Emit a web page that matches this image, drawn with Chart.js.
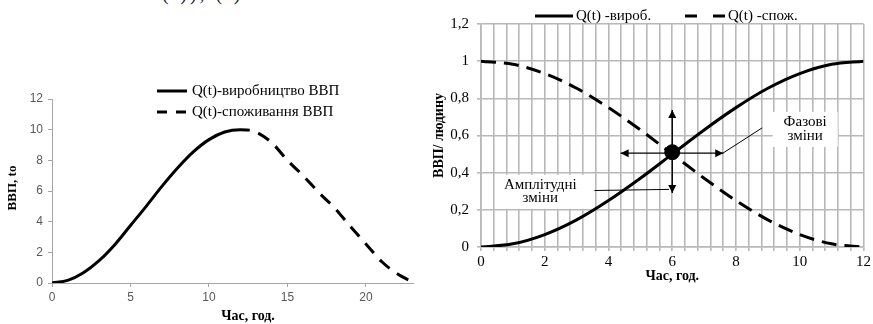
<!DOCTYPE html>
<html><head><meta charset="utf-8">
<script src="https://cdn.jsdelivr.net/npm/chart.js@4.4.1/dist/chart.umd.min.js"></script>
<style>
html,body{margin:0;padding:0;background:#fff;}
body{width:873px;height:324px;position:relative;overflow:hidden;}
#w1{position:absolute;left:0;top:0;width:440px;height:324px;}
#w2{position:absolute;left:430px;top:0;width:443px;height:324px;}
#frag{position:absolute;left:162px;top:-17px;font:20px "Liberation Serif";line-height:20px;letter-spacing:3px;white-space:pre;color:#222;}
canvas{display:block;}
</style></head><body>
<div id="frag">(t)), (t)</div>
<div id="w1"><canvas id="c1" width="440" height="324" style="width:440px;height:324px"></canvas></div>
<div id="w2"><canvas id="c2" width="443" height="324" style="width:443px;height:324px"></canvas></div>
<script>
// ---------- Left chart data ----------
const leftProdTime = [0, 1, 2, 3, 4, 5, 6, 7, 8, 9, 10, 11, 12, 12.6];
const leftProduction = [0, 0.17, 0.67, 1.46, 2.5, 3.75, 5.0, 6.3, 7.5, 8.55, 9.35, 9.85, 10.0, 9.97];
const leftConsTime = [12.6, 13, 14, 15, 16, 17, 18, 19, 20, 21, 22, 23];
const leftConsumption = [9.97, 9.85, 9.15, 8.0, 7.0, 5.9, 4.9, 3.7, 2.55, 1.4, 0.6, 0.05];
const leftXTickLabels = ['0', '5', '10', '15', '20'];
const leftYTickLabels = ['0', '2', '4', '6', '8', '10', '12'];
const leftSeriesNames = ['Q(t)-виробництво ВВП', 'Q(t)-споживання ВВП'];
const leftXTitle = 'Час, год.';
const leftYTitle = 'ВВП, to';

// ---------- Right chart data ----------
const rightTime = [0, 1, 2, 3, 4, 5, 6, 7, 8, 9, 10, 11, 12];
const rightProduction = [0, 0.017, 0.067, 0.146, 0.25, 0.37, 0.5, 0.63, 0.75, 0.854, 0.933, 0.983, 1.0];
const rightConsumption = [1.0, 0.983, 0.933, 0.854, 0.75, 0.63, 0.5, 0.37, 0.25, 0.146, 0.067, 0.017, 0];
const rightXTickLabels = ['0', '2', '4', '6', '8', '10', '12'];
const rightYTickLabels = ['0', '0,2', '0,4', '0,6', '0,8', '1', '1,2'];
const rightSeriesNames = ['Q(t) -вироб.', 'Q(t) -спож.'];
const rightXTitle = 'Час, год.';
const rightYTitle = 'ВВП/ людину';
const crossPointT = [6];
const crossPointV = [0.51];
// arrows from the crossing point: tips (time, value)
const arrowTipT = [6, 6, 4.38, 7.6];
const arrowTipV = [0.737, 0.29, 0.505, 0.505];
const arrowBase = [6, 0.505];
// callout leader lines: [fromT, fromV, toT, toV]
const leaderPhase = [8.82, 0.641, 7.57, 0.503];
const leaderAmp = [3.56, 0.304, 5.9, 0.31];
const labelAmpText = ['Амплітудні', 'зміни'];
const labelAmpAt = [1.86, 0.297];
const labelPhaseText = ['Фазові', 'зміни'];
const labelPhaseAt = [10.17, 0.633];

const SERIF = '"Liberation Serif", "Times New Roman", serif';
const SANS = '"Liberation Sans", Arial, sans-serif';

const toXY = (xs, ys) => xs.map((x, i) => ({x: x, y: ys[i]}));

// ---------- Left chart ----------
const leftDecor = {
  id: 'leftDecor',
  afterDraw(chart) {
    const {ctx, chartArea: a} = chart;
    ctx.save();
    ctx.font = '15px ' + SERIF;
    ctx.textBaseline = 'middle';
    ctx.textAlign = 'left';
    chart.data.datasets.forEach((ds, i) => {
      const y = 91 + i * 21;
      ctx.beginPath();
      ctx.setLineDash(i === 0 ? [] : [10, 9]);
      ctx.lineWidth = 3;
      ctx.strokeStyle = ds.borderColor;
      ctx.moveTo(157, y); ctx.lineTo(187, y); ctx.stroke();
      ctx.setLineDash([]);
      ctx.fillStyle = '#000';
      ctx.fillText(ds.label, 192, y);
    });
    ctx.font = 'bold 14px ' + SERIF;
    ctx.textAlign = 'center';
    ctx.fillText(leftXTitle, 248, 316);
    ctx.translate(13, 188);
    ctx.rotate(-Math.PI / 2);
    ctx.font = 'bold 13px ' + SERIF;
    ctx.fillText(leftYTitle, 0, 0);
    ctx.restore();
  }
};

new Chart(document.getElementById('c1'), {
  type: 'line',
  data: {
    datasets: [
      {label: leftSeriesNames[0], data: toXY(leftProdTime, leftProduction), borderColor: '#000', borderWidth: 3,
       pointRadius: 0, cubicInterpolationMode: 'monotone', fill: false},
      {label: leftSeriesNames[1], data: toXY(leftConsTime, leftConsumption), borderColor: '#000', borderWidth: 3,
       borderDash: [13, 9], borderDashOffset: 13, borderCapStyle: 'butt', pointRadius: 0,
       cubicInterpolationMode: 'monotone', fill: false}
    ]
  },
  options: {
    responsive: false, animation: false, devicePixelRatio: 1,
    layout: {padding: {left: 0, top: 99, right: 27, bottom: 0}},
    plugins: {legend: {display: false}, tooltip: {enabled: false}},
    scales: {
      x: {
        type: 'linear', min: 0, max: 23,
        afterFit(s) { s.height = 41; },
        grid: {drawOnChartArea: false, drawTicks: true, tickLength: 4, color: '#a6a6a6'},
        border: {color: '#a6a6a6', width: 1},
        ticks: {stepSize: 5, includeBounds: false, autoSkip: false, maxRotation: 0, padding: 3,
                color: '#595959', font: {family: SANS, size: 12},
                callback: (v) => leftXTickLabels[Math.round(v / 5)]}
      },
      y: {
        type: 'linear', min: 0, max: 12,
        afterFit(s) { s.width = 52; },
        grid: {drawOnChartArea: false, drawTicks: true, tickLength: 4, color: '#a6a6a6'},
        border: {color: '#a6a6a6', width: 1},
        ticks: {stepSize: 2, padding: 5, color: '#595959', font: {family: SANS, size: 12},
                callback: (v) => leftYTickLabels[Math.round(v / 2)]}
      }
    }
  },
  plugins: [leftDecor]
});

// ---------- Right chart ----------
function arrowHead(ctx, x0, y0, x1, y1, len, half) {
  const ang = Math.atan2(y1 - y0, x1 - x0);
  ctx.beginPath();
  ctx.moveTo(x1, y1);
  ctx.lineTo(x1 - len * Math.cos(ang) + half * Math.sin(ang), y1 - len * Math.sin(ang) - half * Math.cos(ang));
  ctx.lineTo(x1 - len * Math.cos(ang) - half * Math.sin(ang), y1 - len * Math.sin(ang) + half * Math.cos(ang));
  ctx.closePath();
  ctx.fill();
}

function calloutBox(ctx, sx, sy, lines, at, padX, lineGap) {
  const cx = sx.getPixelForValue(at[0]);
  const cy = sy.getPixelForValue(at[1]);
  ctx.font = '15px ' + SERIF;
  const w = Math.max(...lines.map(t => ctx.measureText(t).width)) + padX * 2;
  const h = lineGap * lines.length + 7;
  ctx.fillStyle = '#fff';
  ctx.fillRect(cx - w / 2, cy - h / 2, w, h);
  ctx.fillStyle = '#000';
  ctx.textAlign = 'center';
  ctx.textBaseline = 'middle';
  lines.forEach((t, i) => {
    ctx.fillText(t, cx, cy + (i - (lines.length - 1) / 2) * lineGap);
  });
}

const rightDecor = {
  id: 'rightDecor',
  afterDatasetsDraw(chart) {
    const {ctx} = chart;
    const sx = chart.scales.x, sy = chart.scales.y;
    ctx.save();
    // callout boxes
    calloutBox(ctx, sx, sy, labelAmpText, labelAmpAt, 9, 13.5);
    calloutBox(ctx, sx, sy, labelPhaseText, labelPhaseAt, 11, 14);
    // arrows
    ctx.strokeStyle = '#000';
    ctx.fillStyle = '#000';
    ctx.lineWidth = 1.4;
    const bx = sx.getPixelForValue(arrowBase[0]);
    const by = sy.getPixelForValue(arrowBase[1]);
    arrowTipT.forEach((t, i) => {
      const tx = sx.getPixelForValue(t);
      const ty = sy.getPixelForValue(arrowTipV[i]);
      ctx.beginPath(); ctx.moveTo(bx, by); ctx.lineTo(tx, ty); ctx.stroke();
      arrowHead(ctx, bx, by, tx, ty, 8, 4);
    });
    // leader lines
    ctx.lineWidth = 1;
    [leaderPhase, leaderAmp].forEach(l => {
      ctx.beginPath();
      ctx.moveTo(sx.getPixelForValue(l[0]), sy.getPixelForValue(l[1]));
      ctx.lineTo(sx.getPixelForValue(l[2]), sy.getPixelForValue(l[3]));
      ctx.stroke();
    });
    ctx.restore();
  },
  afterDraw(chart) {
    const {ctx, chartArea: a} = chart;
    ctx.save();
    // legend
    ctx.font = '15px ' + SERIF;
    ctx.textBaseline = 'middle';
    ctx.textAlign = 'left';
    const legX = [[105, 143, 146], [255, 295, 298]];
    [0, 1].forEach(i => {
      const ds = chart.data.datasets[i];
      const y = 16;
      ctx.beginPath();
      ctx.setLineDash(i === 0 ? [] : [12, 16]);
      ctx.lineWidth = 3;
      ctx.strokeStyle = ds.borderColor;
      ctx.moveTo(legX[i][0], y); ctx.lineTo(legX[i][1], y); ctx.stroke();
      ctx.setLineDash([]);
      ctx.fillStyle = '#000';
      ctx.fillText(ds.label, legX[i][2], y);
    });
    // axis titles
    ctx.font = 'bold 14px ' + SERIF;
    ctx.textAlign = 'center';
    ctx.fillText(rightXTitle, (a.left + a.right) / 2, 276);
    ctx.translate(9, (a.top + a.bottom) / 2);
    ctx.rotate(-Math.PI / 2);
    ctx.fillText(rightYTitle, 0, 0);
    ctx.restore();
  }
};

const isMultiple = (v, m) => Math.abs(v / m - Math.round(v / m)) < 1e-6;

new Chart(document.getElementById('c2'), {
  type: 'line',
  data: {
    datasets: [
      {label: rightSeriesNames[0], data: toXY(rightTime, rightProduction), borderColor: '#000', borderWidth: 3,
       pointRadius: 0, cubicInterpolationMode: 'monotone', fill: false},
      {label: rightSeriesNames[1], data: toXY(rightTime, rightConsumption), borderColor: '#000', borderWidth: 3,
       borderDash: [15, 8], borderCapStyle: 'butt', pointRadius: 0, cubicInterpolationMode: 'monotone', fill: false},
      {label: 'point', data: toXY(crossPointT, crossPointV), showLine: false, pointRadius: 7.5,
       pointBackgroundColor: '#000', pointBorderColor: '#000', borderColor: '#000'}
    ]
  },
  options: {
    responsive: false, animation: false, devicePixelRatio: 1,
    layout: {padding: {left: 0, top: 24, right: 8, bottom: 0}},
    plugins: {legend: {display: false}, tooltip: {enabled: false}},
    scales: {
      x: {
        type: 'linear', min: 0, max: 12,
        afterFit(s) { s.height = 77; },
        grid: {color: '#b8b8b8', lineWidth: 1.6, drawTicks: true, tickLength: 4},
        border: {color: '#b8b8b8', width: 1.6},
        ticks: {stepSize: 0.4, autoSkip: false, maxRotation: 0, padding: 2, color: '#000',
                font: {family: SERIF, size: 15},
                callback: (v) => isMultiple(v, 2) ? rightXTickLabels[Math.round(v / 2)] : ''}
      },
      y: {
        type: 'linear', min: 0, max: 1.2,
        afterFit(s) { s.width = 51; },
        grid: {color: '#b8b8b8', lineWidth: 1.6, drawTicks: true, tickLength: 4},
        border: {color: '#b8b8b8', width: 1.6},
        ticks: {stepSize: 0.2, padding: 8, color: '#000', font: {family: SERIF, size: 15},
                callback: (v) => rightYTickLabels[Math.round(v / 0.2)]}
      }
    }
  },
  plugins: [rightDecor]
});
</script>
</body></html>
